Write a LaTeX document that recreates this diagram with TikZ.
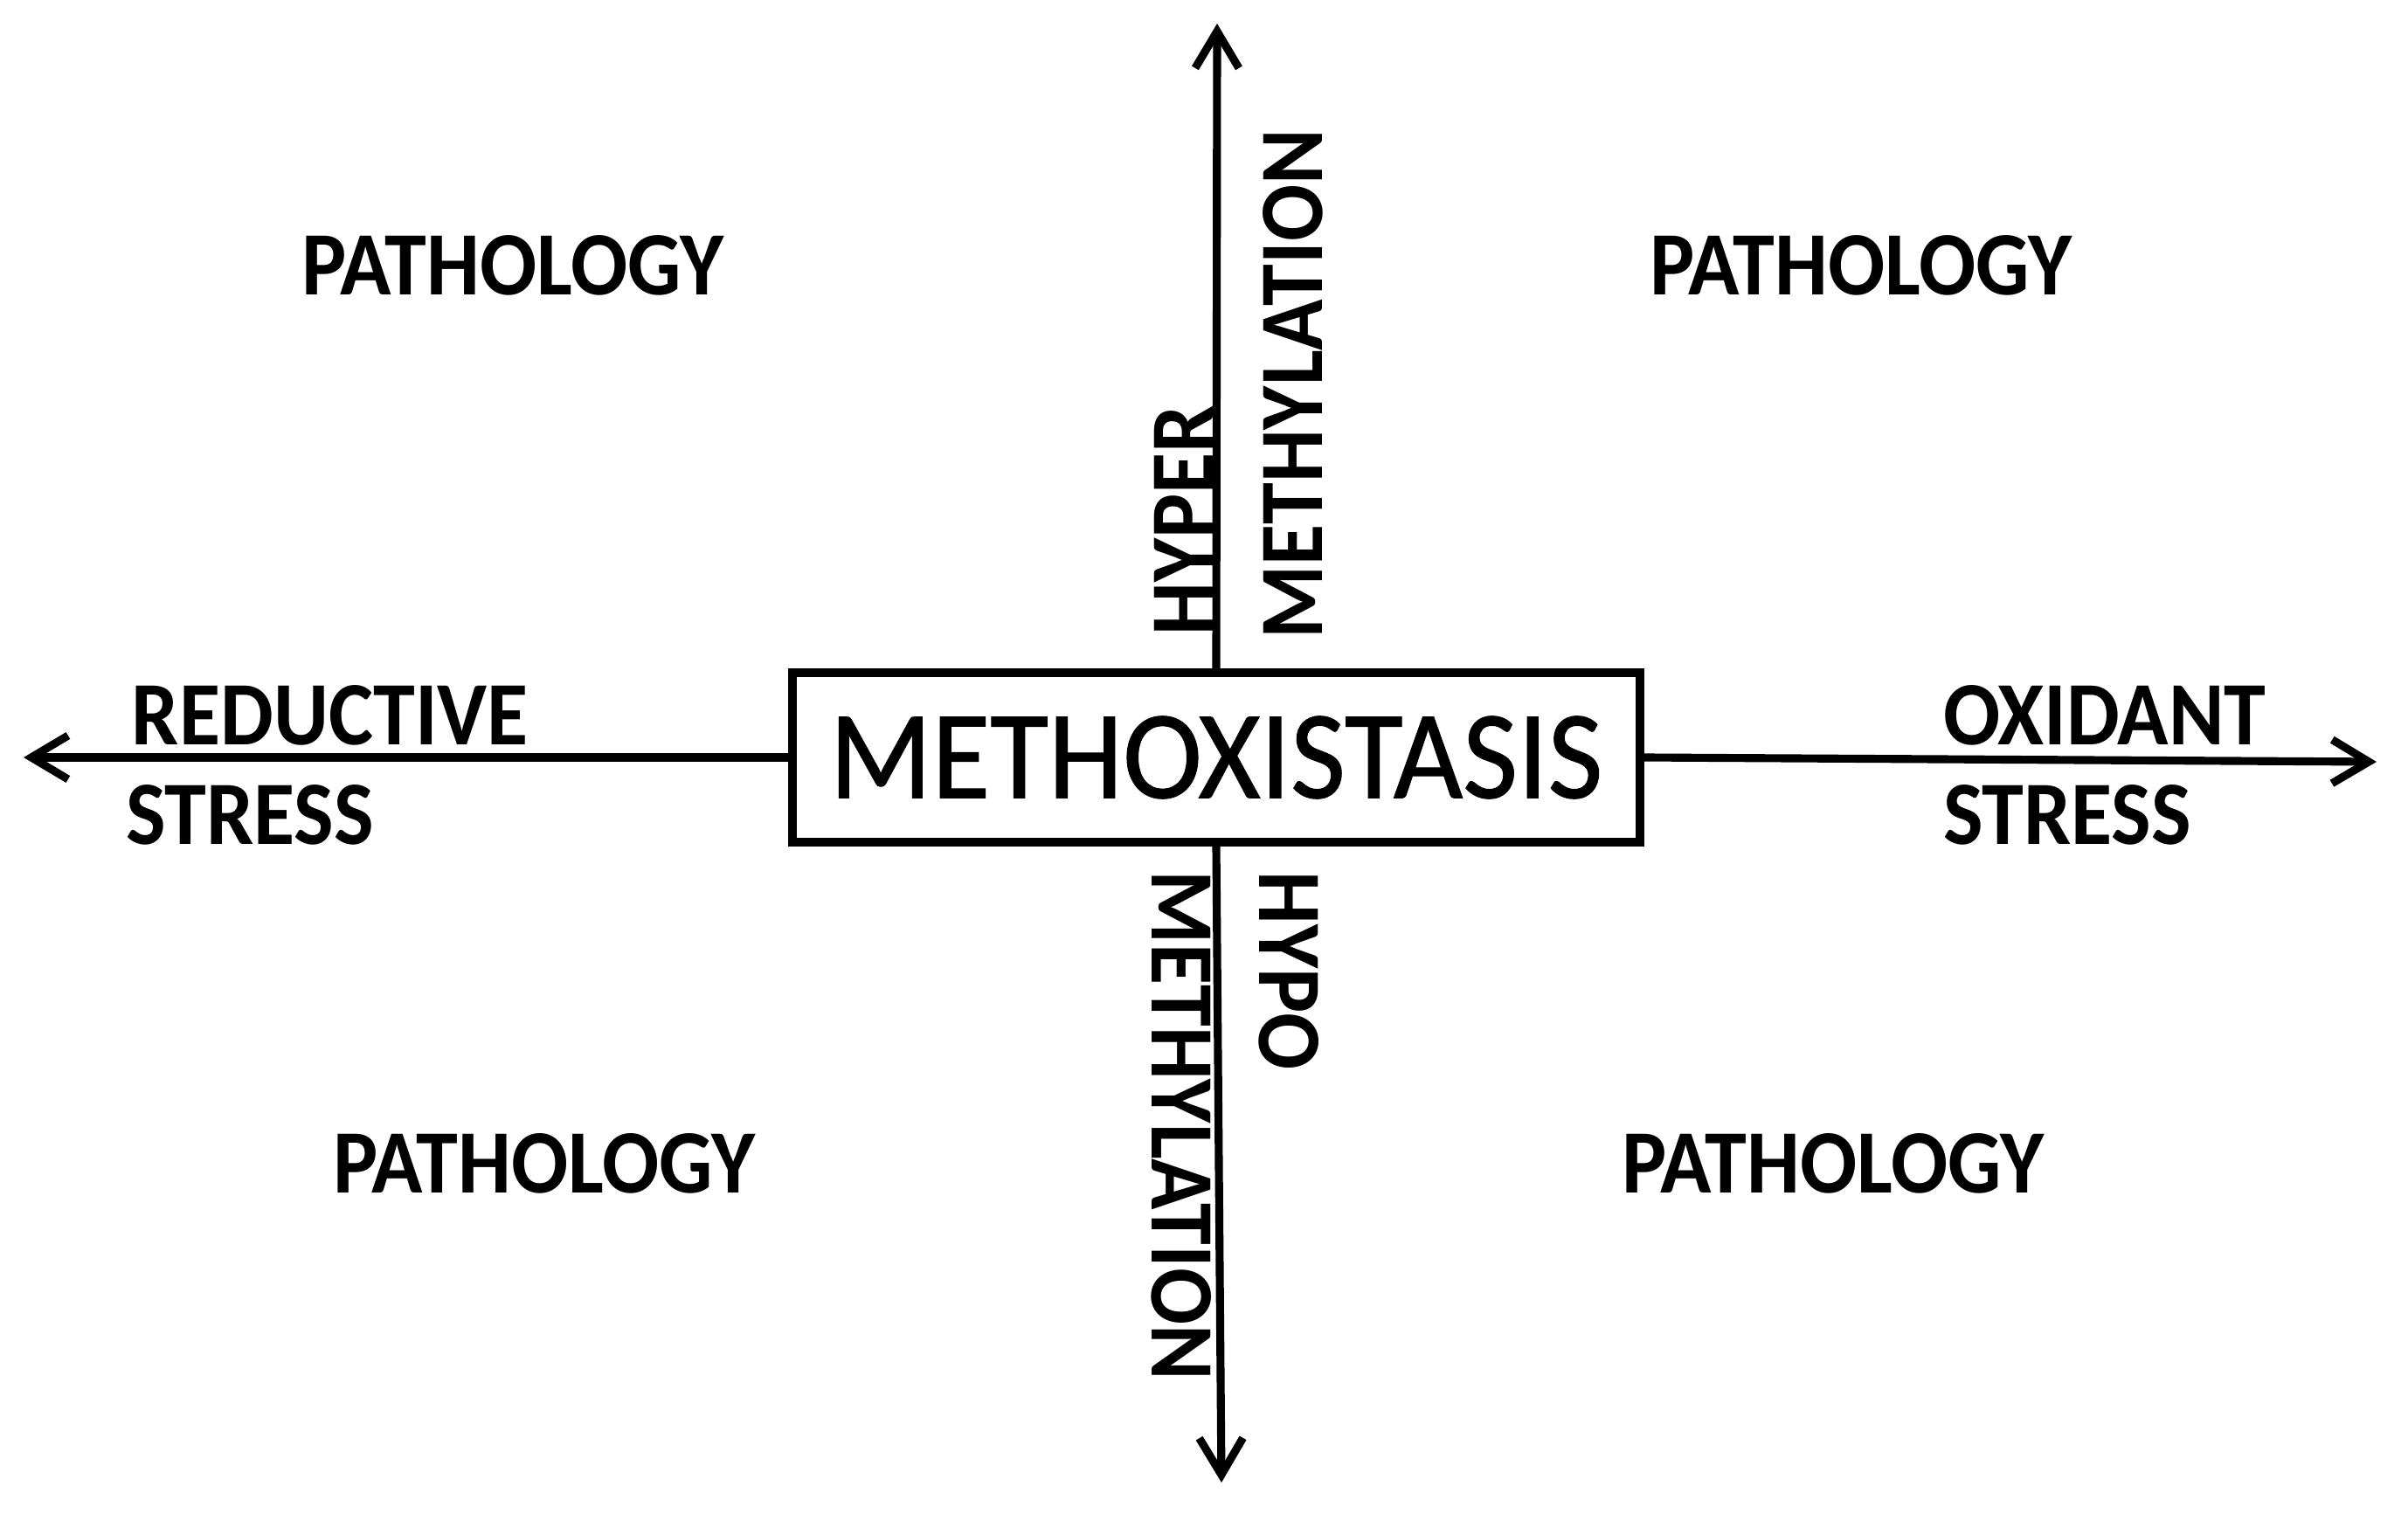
\documentclass[tikz,border=0pt]{standalone}
\usepackage{fontspec}
\setmainfont[FakeStretch=0.93]{Carlito}
\newfontfamily\boxfont[FakeStretch=0.95, FakeBold=0.8]{Carlito}
\usetikzlibrary{arrows.meta}

\begin{document}
\begin{tikzpicture}[
  axisarrow/.style={line width=2.6pt, -{Straight Barb[length=4.2mm,width=5mm]}},
  word/.style={font=\bfseries\fontsize{29.5}{30}\selectfont, inner sep=0pt},
]
\useasboundingbox (0,0) rectangle (27.56,-17.33);

% Centre box
\node[draw, line width=2.6pt, minimum width=9.7cm, minimum height=1.94cm,
  inner sep=0pt, font=\boxfont\fontsize{41}{44}\selectfont] (box) at (13.92,-8.67) {METHOXISTASIS};

% Arrow ends
\coordinate (upEnd) at (13.93,-0.27);
\coordinate (downEnd) at (13.98,-16.97);
\coordinate (leftEnd) at (0.27,-8.67);
\coordinate (rightEnd) at (27.20,-8.72);

% Axes
\draw[axisarrow] (box.north) -- (upEnd);
\draw[axisarrow] (box.south) -- (downEnd);
\draw[axisarrow] (box.west) -- (leftEnd);
\draw[axisarrow] (box.east) -- (rightEnd);

% Stress labels
\node[word] (reductive) at (3.78,-8.19) {REDUCTIVE};
\node[word] (stressL) at (2.86,-9.33) {STRESS};
\node[word] (oxidant) at (24.09,-8.19) {OXIDANT};
\node[word] (stressR) at (23.66,-9.33) {STRESS};

% Methylation labels
\node[word, rotate=90] (hyper) at (13.55,-5.96) {HYPER};
\node[word, rotate=90] (methylUp) at (14.80,-4.40) {METHYLATION};
\node[word, rotate=-90] (methylDown) at (13.52,-12.88) {METHYLATION};
\node[word, rotate=-90] (hypo) at (14.75,-11.11) {HYPO};

% Quadrants
\node[word] (pathTL) at (5.87,-3.04) {PATHOLOGY};
\node[word] (pathTR) at (21.30,-3.04) {PATHOLOGY};
\node[word] (pathBL) at (6.23,-13.32) {PATHOLOGY};
\node[word] (pathBR) at (20.98,-13.32) {PATHOLOGY};

\end{tikzpicture}
\end{document}
